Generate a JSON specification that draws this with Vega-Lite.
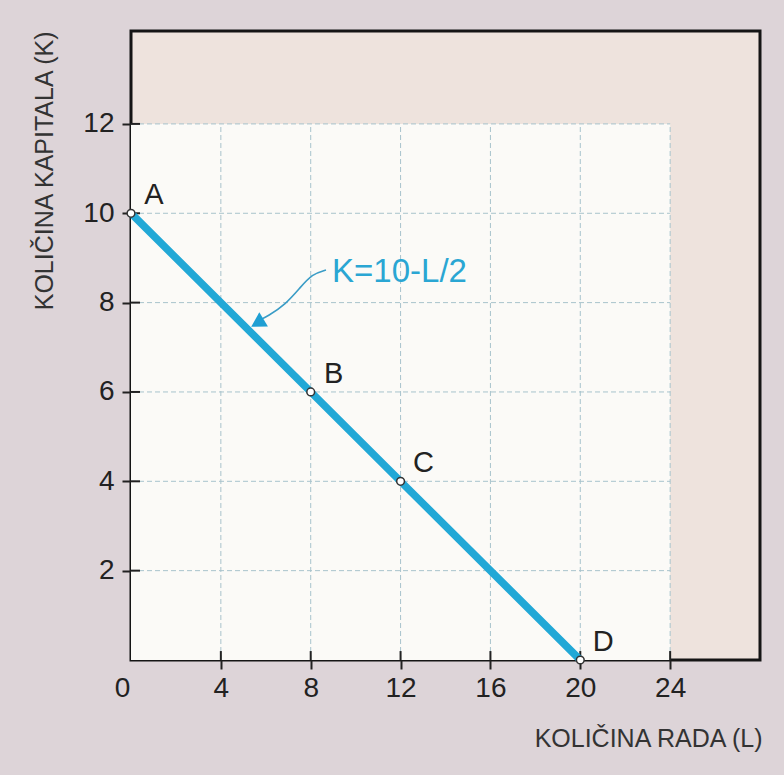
{
  "$schema": "https://vega.github.io/schema/vega-lite/v6.json",
  "width": 629,
  "height": 629,
  "autosize": {"type": "none"},
  "padding": {"left": 131, "top": 31, "right": 24, "bottom": 115},
  "background": "#ddd4d8",
  "config": {
    "view": {"fill": "#eee3dd", "stroke": "#151515", "strokeWidth": 3},
    "font": "Liberation Sans"
  },
  "datasets": {
    "region": [{"L": 0, "L2": 24, "K": 0, "K2": 12}],
    "vgrid": [{"L": 4}, {"L": 8}, {"L": 12}, {"L": 16}, {"L": 20}, {"L": 24}],
    "hgrid": [{"K": 2}, {"K": 4}, {"K": 6}, {"K": 8}, {"K": 10}, {"K": 12}],
    "points": [
      {"name": "A", "L": 0, "K": 10},
      {"name": "B", "L": 8, "K": 6},
      {"name": "C", "L": 12, "K": 4},
      {"name": "D", "L": 20, "K": 0}
    ],
    "arrow": [
      {"i": 0, "L": 8.68, "K": 8.73},
      {"i": 1, "L": 8.06, "K": 8.64},
      {"i": 2, "L": 7.52, "K": 8.33},
      {"i": 3, "L": 6.86, "K": 7.95},
      {"i": 4, "L": 6.1, "K": 7.7},
      {"i": 5, "L": 5.65, "K": 7.59}
    ],
    "arrowhead": [{"L": 5.72, "K": 7.57}],
    "note": [{"text": "K=10-L/2", "L": 8.95, "K": 8.69}]
  },
  "layer": [
    {
      "data": {"name": "region"},
      "mark": {"type": "rect", "fill": "#fbfaf7"},
      "encoding": {
        "x": {
          "field": "L", "type": "quantitative",
          "scale": {"domain": [0, 28], "nice": false, "zero": false},
          "axis": {
            "values": [0, 4, 8, 12, 16, 20, 24],
            "domain": false, "grid": false,
            "tickSize": 9, "tickWidth": 2,
            "tickColor": {"condition": {"test": "datum.value === 0", "value": "transparent"}, "value": "#222"},
            "labelFontSize": 28, "labelColor": "#222", "labelPadding": 5,
            "labelFlush": false,
            "labelOffset": {"condition": {"test": "datum.value === 0", "value": -9}, "value": 0},
            "title": "KOLIČINA RADA (L)",
            "titleFontSize": 25, "titleFontWeight": "normal", "titleColor": "#333",
            "titleX": 631, "titleY": 78, "titleAlign": "right", "titleBaseline": "middle"
          }
        },
        "x2": {"field": "L2"},
        "y": {
          "field": "K", "type": "quantitative",
          "scale": {"domain": [0, 14.08], "nice": false, "zero": false},
          "axis": {
            "values": [2, 4, 6, 8, 10, 12],
            "domain": false, "grid": false,
            "tickSize": 9, "tickWidth": 2, "tickColor": "#222",
            "labelFontSize": 28, "labelColor": "#222", "labelPadding": 8,
            "labelFlush": false,
            "title": "KOLIČINA KAPITALA (K)",
            "titleFontSize": 25, "titleFontWeight": "normal", "titleColor": "#333",
            "titleAngle": -90,
            "titleX": -87, "titleY": 0, "titleAlign": "right", "titleBaseline": "middle"
          }
        },
        "y2": {"field": "K2"}
      }
    },
    {
      "data": {"name": "vgrid"},
      "mark": {"type": "rule", "color": "#a8c3cc", "strokeWidth": 1, "strokeDash": [5, 3]},
      "encoding": {
        "x": {"field": "L", "type": "quantitative"},
        "y": {"datum": 0},
        "y2": {"datum": 12}
      }
    },
    {
      "data": {"name": "hgrid"},
      "mark": {"type": "rule", "color": "#a8c3cc", "strokeWidth": 1, "strokeDash": [5, 3]},
      "encoding": {
        "y": {"field": "K", "type": "quantitative"},
        "x": {"datum": 0},
        "x2": {"datum": 24}
      }
    },
    {
      "data": {"name": "vgrid"},
      "mark": {"type": "rule", "color": "#222", "strokeWidth": 2},
      "encoding": {
        "x": {"field": "L", "type": "quantitative"},
        "y": {"datum": 0},
        "y2": {"datum": 0.2}
      }
    },
    {
      "data": {"name": "hgrid"},
      "mark": {"type": "rule", "color": "#222", "strokeWidth": 2},
      "encoding": {
        "y": {"field": "K", "type": "quantitative"},
        "x": {"datum": 0},
        "x2": {"datum": 0.4}
      }
    },
    {
      "data": {"name": "points"},
      "mark": {"type": "line", "color": "#22a8d6", "strokeWidth": 7.5},
      "encoding": {
        "x": {"field": "L", "type": "quantitative"},
        "y": {"field": "K", "type": "quantitative"}
      }
    },
    {
      "data": {"name": "arrow"},
      "mark": {"type": "line", "color": "#3a9cc6", "strokeWidth": 1.6, "interpolate": "basis"},
      "encoding": {
        "x": {"field": "L", "type": "quantitative"},
        "y": {"field": "K", "type": "quantitative"},
        "order": {"field": "i"}
      }
    },
    {
      "data": {"name": "arrowhead"},
      "mark": {"type": "point", "shape": "triangle", "filled": true, "color": "#1f9fd3", "size": 280, "angle": 239, "opacity": 1},
      "encoding": {
        "x": {"field": "L", "type": "quantitative"},
        "y": {"field": "K", "type": "quantitative"}
      }
    },
    {
      "data": {"name": "points"},
      "mark": {"type": "point", "filled": true, "fill": "#ffffff", "stroke": "#333", "strokeWidth": 1.5, "size": 60, "opacity": 1},
      "encoding": {
        "x": {"field": "L", "type": "quantitative"},
        "y": {"field": "K", "type": "quantitative"}
      }
    },
    {
      "data": {"name": "points"},
      "mark": {"type": "text", "fontSize": 29, "color": "#222", "dx": 23, "dy": -18, "align": "center", "baseline": "middle"},
      "encoding": {
        "x": {"field": "L", "type": "quantitative"},
        "y": {"field": "K", "type": "quantitative"},
        "text": {"field": "name"}
      }
    },
    {
      "data": {"name": "note"},
      "mark": {"type": "text", "fontSize": 33, "color": "#2aa6d3", "align": "left", "baseline": "middle"},
      "encoding": {
        "x": {"field": "L", "type": "quantitative"},
        "y": {"field": "K", "type": "quantitative"},
        "text": {"field": "text"}
      }
    }
  ]
}
